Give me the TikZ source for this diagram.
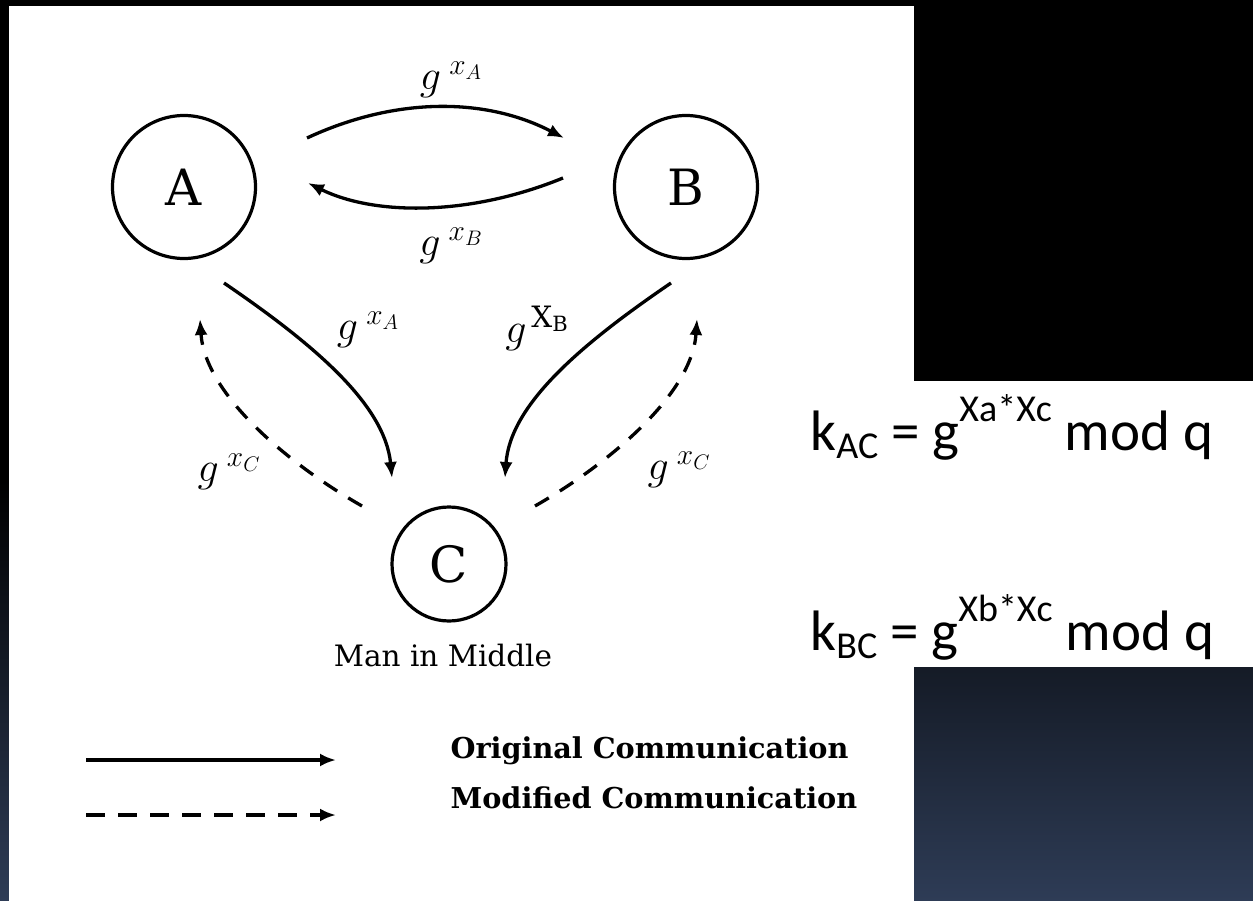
\documentclass[tikz,border=0pt]{standalone}
\usepackage{fix-cm}
\usepackage{fontspec}
\setmainfont{DejaVu Serif}
\newfontfamily\eqfont{Carlito}
\usepackage{xcolor}
\usetikzlibrary{arrows.meta}
\definecolor{slate}{RGB}{46,60,86}
\tikzset{
  party/.style={draw,circle,line width=3.2pt,inner sep=0pt,font=\fontsize{50}{50}\selectfont},
  msg/.style={font=\fontsize{42}{46}\selectfont},
  arr/.style={-{Latex[length=16pt,width=13pt]},line width=3.3pt},
  darr/.style={arr,dash pattern=on 16pt off 13pt},
  leg/.style={anchor=base west,font=\bfseries\fontsize{28.7}{32}\selectfont},
  eq/.style={anchor=base west,font=\eqfont\fontsize{57}{62}\selectfont},
}
\newcommand\eqsub[1]{\raisebox{-8pt}{\fontsize{38}{42}\selectfont #1}}
\newcommand\eqsup[1]{\raisebox{29pt}{\fontsize{38}{42}\selectfont #1}}

\begin{document}
\begin{tikzpicture}[x=1pt,y=-1pt]
\useasboundingbox (0,0) rectangle (1253,901);
% slide background and the two white panels
\fill[black] (0,0) rectangle (1253,901);
\shade[top color=black,bottom color=slate] (0,480) rectangle (1253,901);
\fill[white] (9,6) rectangle (914,901);
\fill[white] (914,381) rectangle (1253,667);

% the three parties
\node[party,minimum size=143pt] (A) at (184,187) {A};
\node[party,minimum size=143pt] (B) at (686,187) {B};
\node[party,minimum size=114pt] (C) at (449,564) {C};
\node[font=\fontsize{29.5}{33}\selectfont,anchor=base] (mim) at (443,666) {Man in Middle};

% arrow ends
\coordinate (ab0) at (307,138); \coordinate (ab1) at (564,138);
\coordinate (ba0) at (563,178); \coordinate (ba1) at (308,183);
\coordinate (ac0) at (224,283); \coordinate (ac1) at (392,478);
\coordinate (bc0) at (671,283); \coordinate (bc1) at (505,478);
\coordinate (ca0) at (362,506); \coordinate (ca1) at (200,319);
\coordinate (cb0) at (535,506); \coordinate (cb1) at (697,319);

\draw[arr] (ab0) .. controls (395,97) and (485,97) .. (ab1);
\draw[arr] (ba0) .. controls (470,216) and (375,216) .. (ba1);
\draw[arr] (ac0) .. controls (315,345) and (385,405) .. (ac1);
\draw[arr] (bc0) .. controls (580,345) and (510,405) .. (bc1);
\draw[darr] (ca0) .. controls (290,465) and (205,395) .. (ca1);
\draw[darr] (cb0) .. controls (607,465) and (692,395) .. (cb1);

% exchanged values
\node[msg] (gxa) at (451,80) {$g^{\;x_A}$};
\node[msg] (gxb) at (451,246) {$g^{\;x_B}$};
\node[msg] (gxac) at (368,330) {$g^{\;x_A}$};
\node[msg] (gxbc) at (537,328) {$g^{\,\mathrm{X_B}}$};
\node[msg] (gxcl) at (229,472) {$g^{\;x_C}$};
\node[msg] (gxcr) at (679,470) {$g^{\;x_C}$};

% legend
\coordinate (l1a) at (86,760); \coordinate (l1b) at (336,760);
\coordinate (l2a) at (86,815); \coordinate (l2b) at (336,815);
\draw[arr] (l1a) -- (l1b);
\draw[arr,dash pattern=on 19pt off 13pt] (l2a) -- (l2b);
\node[leg] (orig) at (447,758) {Original Communication};
\node[leg] (modif) at (447,808) {Modified Communication};

% keys shared with C
\node[eq] (kac) at (807,450) {k\eqsub{AC} = g\eqsup{Xa*Xc} mod q};
\node[eq] (kbc) at (807,650) {k\eqsub{BC} = g\eqsup{Xb*Xc} mod q};
\end{tikzpicture}
\end{document}
